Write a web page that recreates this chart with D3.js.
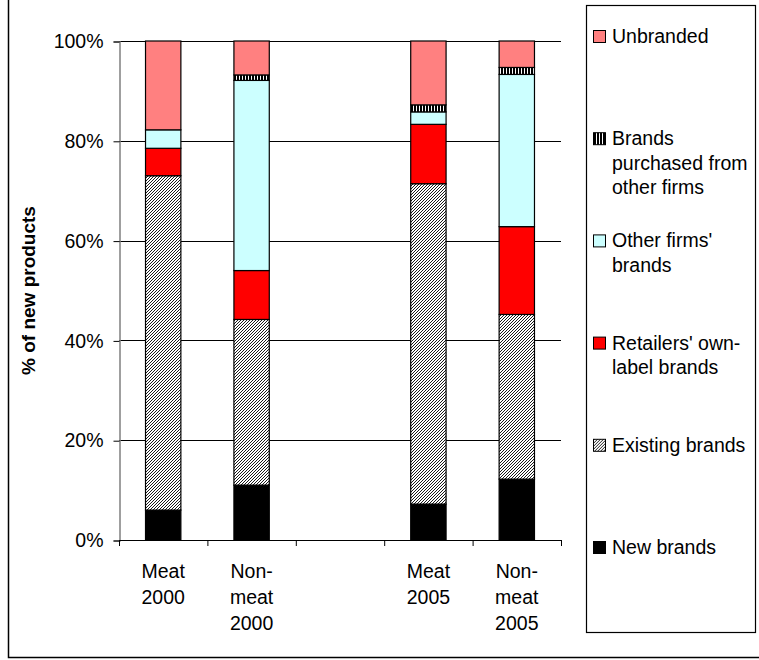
<!DOCTYPE html>
<html>
<head>
<meta charset="utf-8">
<script src="https://cdn.jsdelivr.net/npm/d3@7"></script>
<style>
  body { margin: 0; background: #fff; }
  svg text { font-family: "Liberation Sans", Arial, sans-serif; fill: #000; }
</style>
</head>
<body>
<div id="chart"></div>
<script>
// categories along the x axis (third slot is an empty gap)
const categories = ["m2000", "n2000", "gap", "m2005", "n2005"];
const catLabels = [["Meat", "2000"], ["Non-", "meat", "2000"], [], ["Meat", "2005"], ["Non-", "meat", "2005"]];

// series values, % of new products (bottom to top of stack)
const newBrands       = [6.0, 11.0, null, 7.2, 12.2];
const existingBrands  = [67.0, 33.2, null, 64.2, 33.0];
const retailerBrands  = [5.5, 9.8, null, 11.9, 17.6];
const otherFirmBrands = [3.7, 38.1, null, 2.5, 30.5];
const purchasedBrands = [0.0, 1.1, null, 1.4, 1.4];
const unbranded       = [17.8, 6.8, null, 12.8, 5.3];

const seriesKeys = ["new", "existing", "retailer", "other", "purchased", "unbranded"];
const seriesNames = [["New brands"], ["Existing brands"], ["Retailers' own-", "label brands"],
  ["Other firms'", "brands"], ["Brands", "purchased from", "other firms"], ["Unbranded"]];
const yTicks = [0, 20, 40, 60, 80, 100];

const width = 759, height = 660;
const plot = { left: 119, right: 561, top: 41, bottom: 540 };

const svg = d3.select("#chart").append("svg")
  .attr("width", width).attr("height", height);

// fill patterns
const defs = svg.append("defs");
const diag = defs.append("pattern").attr("id", "diag")
  .attr("patternUnits", "userSpaceOnUse").attr("width", 3).attr("height", 3);
diag.append("rect").attr("width", 3).attr("height", 3).attr("fill", "#fff");
diag.append("path").attr("d", "M0,3 L3,0 M-1,1 L1,-1 M2,4 L4,2")
  .attr("stroke", "#000").attr("stroke-width", 0.9);
const vert = defs.append("pattern").attr("id", "vert")
  .attr("patternUnits", "userSpaceOnUse").attr("width", 3).attr("height", 3);
vert.append("rect").attr("width", 3).attr("height", 3).attr("fill", "#fff");
vert.append("rect").attr("x", 0).attr("width", 2).attr("height", 3).attr("fill", "#000");

const fills = {
  new: "#000000", existing: "url(#diag)", retailer: "#ff0000",
  other: "#ccffff", purchased: "url(#vert)", unbranded: "#ff8080"
};

// outer frame
svg.append("rect").attr("x", 8.5).attr("y", -2).attr("width", 760).attr("height", 659.5)
  .attr("fill", "none").attr("stroke", "#000").attr("stroke-width", 1.5);

// scales
const x = d3.scaleBand().domain(categories).range([plot.left, plot.right])
  .paddingInner(0.6).paddingOuter(0.3);
const xSlot = d3.scaleBand().domain(categories).range([plot.left, plot.right]);
const y = d3.scaleLinear().domain([0, 100]).range([plot.bottom, plot.top]);

// gridlines
svg.append("g").selectAll("line").data(yTicks.filter(d => d > 0)).join("line")
  .attr("x1", plot.left).attr("x2", plot.right)
  .attr("y1", d => Math.round(y(d)) + 0.5).attr("y2", d => Math.round(y(d)) + 0.5)
  .attr("stroke", "#000").attr("stroke-width", 1);

// y axis
const yAxis = svg.append("g").attr("transform", `translate(${plot.left + 0.5},0.5)`)
  .call(d3.axisLeft(y).tickValues(yTicks).tickFormat(d => d + "%").tickSize(6).tickPadding(10));
yAxis.select(".domain").attr("stroke", "#808080").attr("stroke-width", 1.5);
yAxis.selectAll(".tick line").attr("stroke", "#000");
yAxis.selectAll(".tick text").style("font-size", "19.5px").attr("fill", "#000");

// stacked data
const rows = categories.map((c, i) => ({
  cat: c, new: newBrands[i], existing: existingBrands[i], retailer: retailerBrands[i],
  other: otherFirmBrands[i], purchased: purchasedBrands[i], unbranded: unbranded[i]
})).filter(r => r.new !== null);
const stacked = d3.stack().keys(seriesKeys)(rows);

const bars = svg.append("g");
stacked.forEach(layer => {
  bars.append("g").selectAll("rect")
    .data(layer.filter(d => d[1] - d[0] > 0)).join("rect")
    .attr("x", d => x(d.data.cat))
    .attr("width", x.bandwidth())
    .attr("y", d => y(d[1]))
    .attr("height", d => y(d[0]) - y(d[1]))
    .attr("fill", fills[layer.key])
    .attr("stroke", "#000").attr("stroke-width", 1.2);
});

// x axis
svg.append("line").attr("x1", plot.left).attr("x2", plot.right)
  .attr("y1", plot.bottom + 0.5).attr("y2", plot.bottom + 0.5)
  .attr("stroke", "#000").attr("stroke-width", 1.2);
const bounds = categories.map(c => xSlot(c)).concat([plot.right]);
svg.append("g").selectAll("line").data(bounds).join("line")
  .attr("x1", d => d + 0.5).attr("x2", d => d + 0.5)
  .attr("y1", plot.bottom).attr("y2", plot.bottom + 6)
  .attr("stroke", "#000");
svg.append("g").selectAll("text").data(categories).join("text")
  .attr("x", d => x(d) + x.bandwidth() / 2)
  .attr("y", 578)
  .attr("text-anchor", "middle")
  .style("font-size", "19.5px")
  .each(function(d, i) {
    d3.select(this).selectAll("tspan").data(catLabels[i]).join("tspan")
      .attr("x", x(d) + x.bandwidth() / 2)
      .attr("dy", (t, j) => j === 0 ? 0 : 26)
      .text(t => t);
  });

// y title
svg.append("text")
  .attr("transform", `translate(35,${(plot.top + plot.bottom) / 2}) rotate(-90)`)
  .attr("text-anchor", "middle")
  .style("font-size", "19px").style("font-weight", "bold")
  .text("% of new products");

// legend
const legend = svg.append("g");
legend.append("rect").attr("x", 586.5).attr("y", 5.5).attr("width", 169).attr("height", 627)
  .attr("fill", "#fff").attr("stroke", "#000").attr("stroke-width", 1.2);
const legendOrder = seriesKeys.map((k, i) => ({ key: k, lines: seriesNames[i] })).reverse();
const item = legend.selectAll("g.item").data(legendOrder).join("g")
  .attr("class", "item")
  .attr("transform", (d, i) => `translate(0,${43 + i * 102.2})`);
item.append("rect")
  .attr("x", 593.5).attr("y", -12.5).attr("width", 12).attr("height", 12)
  .attr("fill", d => fills[d.key]).attr("stroke", "#000").attr("stroke-width", 1);
item.append("text")
  .attr("x", 612).attr("y", 0)
  .style("font-size", "19.5px")
  .each(function(d) {
    d3.select(this).selectAll("tspan").data(d.lines).join("tspan")
      .attr("x", 612).attr("dy", (t, j) => j === 0 ? 0 : 24.5)
      .text(t => t);
  });
</script>
</body>
</html>
